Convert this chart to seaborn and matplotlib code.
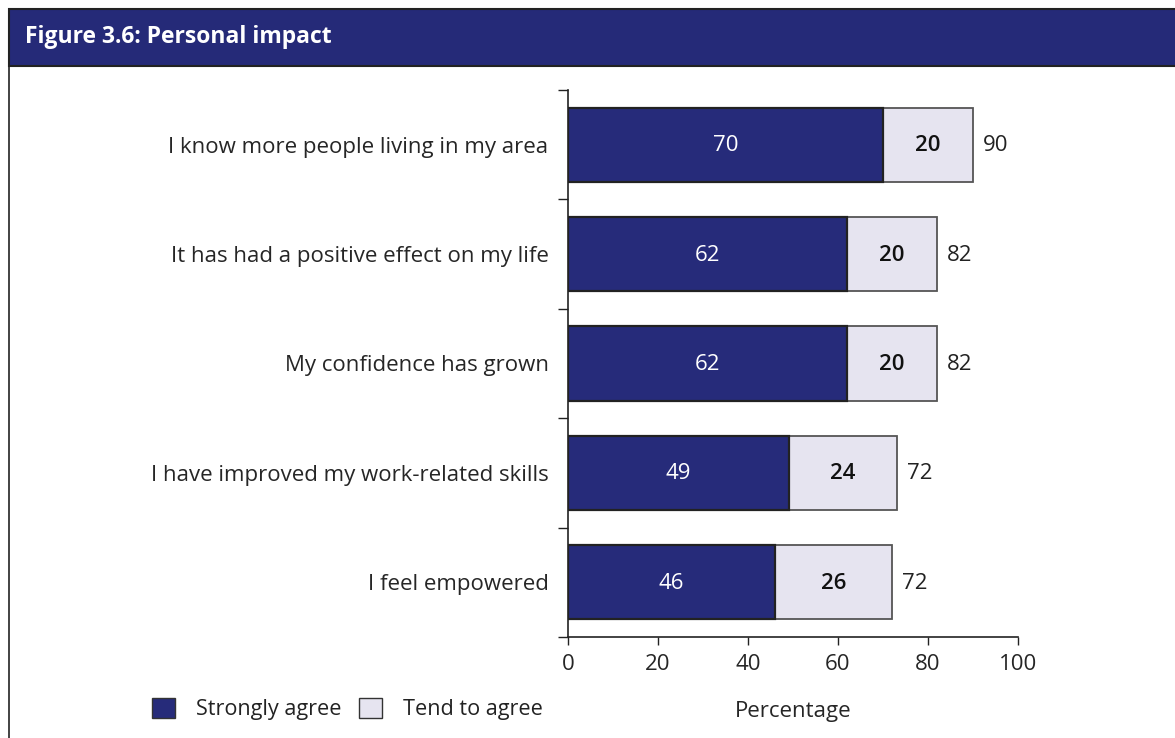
import pandas as pd
import matplotlib.pyplot as plt
import seaborn as sns
from matplotlib.patches import Patch, Rectangle
from matplotlib.lines import Line2D

# Données
categories = [
    "I know more people living in my area",
    "It has had a positive effect on my life",
    "My confidence has grown",
    "I have improved my work-related skills",
    "I feel empowered",
]
strongly_agree = [70, 62, 62, 49, 46]
tend_to_agree = [20, 20, 20, 24, 26]
total_labels = [90, 82, 82, 72, 72]

navy = "#262b7a"
light = "#e6e4f0"

df = pd.DataFrame({
    "statement": categories,
    "strong": strongly_agree,
    "tend": tend_to_agree,
})
df["total"] = df["strong"] + df["tend"]

sns.set_style("white")
plt.rcParams["font.family"] = ["Open Sans", "DejaVu Sans"]
plt.rcParams["text.color"] = "#222222"

fig = plt.figure(figsize=(11.75, 7.38), dpi=100)
ax = fig.add_axes([568 / 1175, 1 - 637 / 738, 450 / 1175, (637 - 90) / 738])

# Barres empilées : total (clair) dessous, "strongly agree" (foncé) dessus
sns.barplot(data=df, y="statement", x="total", color=light, edgecolor="#555555",
            linewidth=1.3, width=0.68, ax=ax, saturation=1)
sns.barplot(data=df, y="statement", x="strong", color=navy, edgecolor="#222222",
            linewidth=1.6, width=0.68, ax=ax, saturation=1)

fs = 16
for i, row in df.iterrows():
    ax.text(row["strong"] / 2, i + 0.01, f"{row['strong']}", color="white",
            ha="center", va="center", fontsize=fs)
    ax.text(row["strong"] + row["tend"] / 2, i + 0.01, f"{row['tend']}", color="#111111",
            ha="center", va="center", fontsize=fs, fontweight="semibold")
    ax.annotate(f"{total_labels[i]}", (row["total"], i + 0.01), xytext=(10, 0),
                textcoords="offset pixels", ha="left", va="center", fontsize=fs)

ax.set_xlim(0, 100)
ax.set_ylim(4.5, -0.5)
ax.set_xticks([0, 20, 40, 60, 80, 100])
ax.set_yticks(range(len(categories)))
ax.set_yticks([i - 0.5 for i in range(len(categories) + 1)], minor=True)
ax.tick_params(axis="y", which="major", length=0, pad=14, labelsize=fs)
ax.tick_params(axis="y", which="minor", length=7, width=1, color="#222222", direction="out", left=True)
ax.tick_params(axis="x", which="major", length=6, width=1, color="#222222", direction="out",
               bottom=True, labelsize=fs, pad=6)
ax.set_ylabel("")
ax.set_xlabel("Percentage", fontsize=fs, labelpad=19)
for s in ["top", "right"]:
    ax.spines[s].set_visible(False)
for s in ["left", "bottom"]:
    ax.spines[s].set_color("#222222")
    ax.spines[s].set_linewidth(1.2)

# Bandeau de titre
fig.patches.append(Rectangle((9 / 1175, 1 - 66 / 738), 1.0, 57 / 738, transform=fig.transFigure,
                             facecolor="#252a78", edgecolor="#222222", linewidth=1.5))
fig.text(25 / 1175, 1 - 37 / 738, "Figure 3.6: Personal impact", color="white",
         fontsize=16.5, fontweight="bold", va="center", ha="left")
fig.lines.append(Line2D([9 / 1175, 9 / 1175], [0, 1 - 66 / 738], transform=fig.transFigure,
                        color="#222222", linewidth=1.2))

handles = [Patch(facecolor=navy, edgecolor="#333333", linewidth=1),
           Patch(facecolor=light, edgecolor="#333333", linewidth=1)]
fig.legend(handles, ["Strongly agree", "Tend to agree"], loc="center left",
           bbox_to_anchor=(152 / 1175, 1 - 709 / 738), ncol=2, frameon=False,
           fontsize=15.6, handlelength=1.08, handleheight=1.08, handletextpad=0.95,
           columnspacing=0.8, borderpad=0, borderaxespad=0)

plt.savefig("out.png", dpi=100)
